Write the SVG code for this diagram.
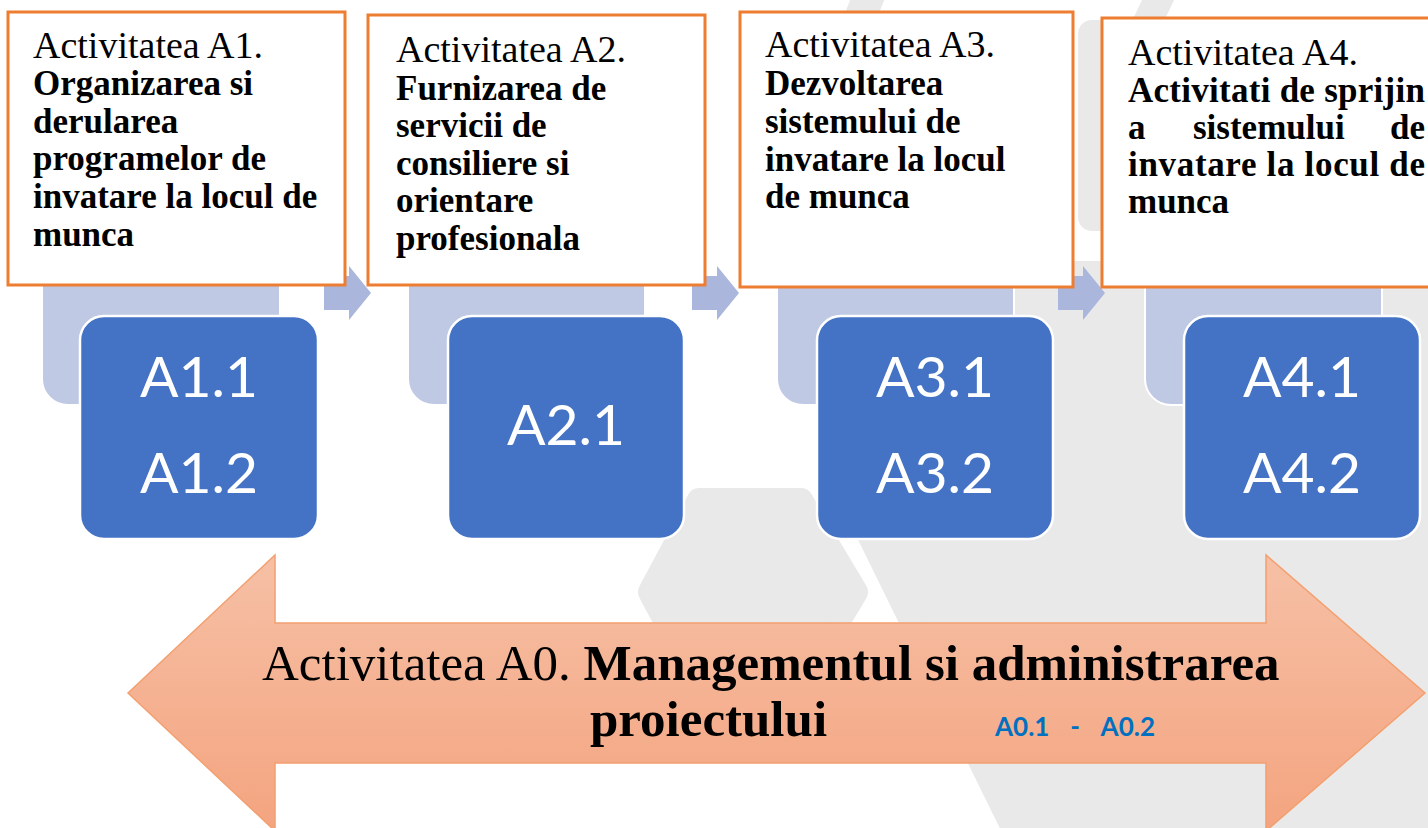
<svg xmlns="http://www.w3.org/2000/svg" width="1428" height="828" viewBox="0 0 1428 828">
  <defs>
    <linearGradient id="arrowGrad" x1="0" y1="0" x2="0" y2="1">
      <stop offset="0" stop-color="#f6c0a6"/>
      <stop offset="1" stop-color="#f4a47f"/>
    </linearGradient>
    <style>
      .hex { fill: #e9e9e9; stroke: #e9e9e9; stroke-width: 24; stroke-linejoin: round; }
      .bg { fill: #e9e9e9; }
      .pale { fill: #bfc9e4; stroke: #ffffff; stroke-width: 2; }
      .blue { fill: #4472c4; stroke: #ffffff; stroke-width: 2.5; }
      .box { fill: #ffffff; stroke: #ed7d31; stroke-width: 3; }
      .chev { fill: #aab6dc; }
      .reg { font-family: "Liberation Serif", "Times New Roman", serif; font-size: 38px; fill: #000000; }
      .bld { font-family: "Liberation Serif", "Times New Roman", serif; font-size: 35px; font-weight: bold; fill: #000000; }
      .sub { font-family: Lato, "Open Sans", sans-serif; font-size: 57px; fill: #ffffff; text-anchor: middle; }
      .a0r { font-family: "Liberation Serif", "Times New Roman", serif; font-size: 51px; fill: #000000; }
      .a0b { font-family: "Liberation Serif", "Times New Roman", serif; font-size: 51px; font-weight: bold; fill: #000000; }
      .code { font-family: Lato, "Open Sans", sans-serif; font-size: 26px; font-weight: bold; fill: #0070c0; }
    </style>
  </defs>

  <rect x="0" y="0" width="1428" height="828" fill="#ffffff"/>

  <g id="background">
    <path class="hex" d="M699,500 L801,500 L856,592 L801,684 L699,684 L650,592 Z"/>
    <path class="hex" d="M842,480 L948,273 L1440,273 L1440,840 L1019,840 Z"/>
    <rect class="bg" x="1078" y="20" width="400" height="211" rx="14"/>
    <polygon class="bg" points="851,-2 885,-2 879,13 845,13"/>
    <polygon class="bg" points="1143,-2 1175,-2 1165,19 1133,19"/>
  </g>

  <g id="connectors">
    <polygon class="chev" points="324,276 349,276 349,266 371,293 349,320 349,310 324,310"/>
    <polygon class="chev" points="692,276 717,276 717,266 739,293 717,320 717,310 692,310"/>
    <polygon class="chev" points="1058,276 1083,276 1083,266 1105,293 1083,320 1083,310 1058,310"/>
  </g>

  <g id="pale-panels">
    <rect class="pale" x="42" y="200" width="238" height="205" rx="26"/>
    <rect class="pale" x="408" y="200" width="237" height="205" rx="26"/>
    <rect class="pale" x="777" y="200" width="237" height="205" rx="26"/>
    <rect class="pale" x="1145" y="200" width="237" height="205" rx="26"/>
  </g>

  <g id="node-a1">
    <rect class="box" x="8" y="12" width="337" height="273"/>
    <text class="reg" x="33" y="58">Activitatea A1.</text>
    <text class="bld" x="33" y="95">Organizarea si</text>
    <text class="bld" x="33" y="133">derularea</text>
    <text class="bld" x="33" y="170">programelor de</text>
    <text class="bld" x="33" y="208">invatare la locul de</text>
    <text class="bld" x="33" y="246">munca</text>
  </g>

  <g id="node-a2">
    <rect class="box" x="368" y="15" width="337" height="270"/>
    <text class="reg" x="396" y="62">Activitatea A2.</text>
    <text class="bld" x="396" y="100">Furnizarea de</text>
    <text class="bld" x="396" y="137">servicii de</text>
    <text class="bld" x="396" y="175">consiliere si</text>
    <text class="bld" x="396" y="212">orientare</text>
    <text class="bld" x="396" y="250">profesionala</text>
  </g>

  <g id="node-a3">
    <rect class="box" x="740" y="12" width="333" height="275"/>
    <text class="reg" x="765" y="57">Activitatea A3.</text>
    <text class="bld" x="765" y="95">Dezvoltarea</text>
    <text class="bld" x="765" y="133">sistemului de</text>
    <text class="bld" x="765" y="171">invatare la locul</text>
    <text class="bld" x="765" y="208">de munca</text>
  </g>

  <g id="node-a4">
    <rect class="box" x="1102" y="18" width="340" height="269"/>
    <text class="reg" x="1128" y="65">Activitatea A4.</text>
    <text class="bld" x="1128" y="102" textLength="297" lengthAdjust="spacing">Activitati de sprijin</text>
    <text class="bld" x="1128" y="139">a</text>
    <text class="bld" x="1193" y="139">sistemului</text>
    <text class="bld" x="1425" y="139" text-anchor="end">de</text>
    <text class="bld" x="1128" y="176" textLength="297" lengthAdjust="spacing">invatare la locul de</text>
    <text class="bld" x="1128" y="213">munca</text>
  </g>

  <g id="node-a1-sub">
    <rect class="blue" x="80" y="316" width="238" height="223" rx="24"/>
    <text class="sub" x="199" y="397">A1.1</text>
    <text class="sub" x="199" y="493">A1.2</text>
  </g>
  <g id="node-a2-sub">
    <rect class="blue" x="448" y="316" width="236" height="223" rx="24"/>
    <text class="sub" x="566" y="445">A2.1</text>
  </g>
  <g id="node-a3-sub">
    <rect class="blue" x="817" y="316" width="236" height="223" rx="24"/>
    <text class="sub" x="935" y="397">A3.1</text>
    <text class="sub" x="935" y="493">A3.2</text>
  </g>
  <g id="node-a4-sub">
    <rect class="blue" x="1184" y="316" width="236" height="223" rx="24"/>
    <text class="sub" x="1302" y="397">A4.1</text>
    <text class="sub" x="1302" y="493">A4.2</text>
  </g>

  <g id="node-a0">
    <path d="M128,693 L275,555 L275,623 L1266,623 L1266,555 L1425,693 L1266,831 L1266,763 L275,763 L275,831 Z" fill="url(#arrowGrad)" stroke="#f2a070" stroke-width="1.5"/>
    <text x="262" y="680"><tspan class="a0r">Activitatea A0. </tspan><tspan class="a0b">Managementul si administrarea</tspan></text>
    <text class="a0b" x="590" y="736">proiectului</text>
    <text class="code" x="995" y="736">A0.1</text>
    <text class="code" x="1075" y="736" text-anchor="middle">-</text>
    <text class="code" x="1155" y="736" text-anchor="end">A0.2</text>
  </g>
</svg>
